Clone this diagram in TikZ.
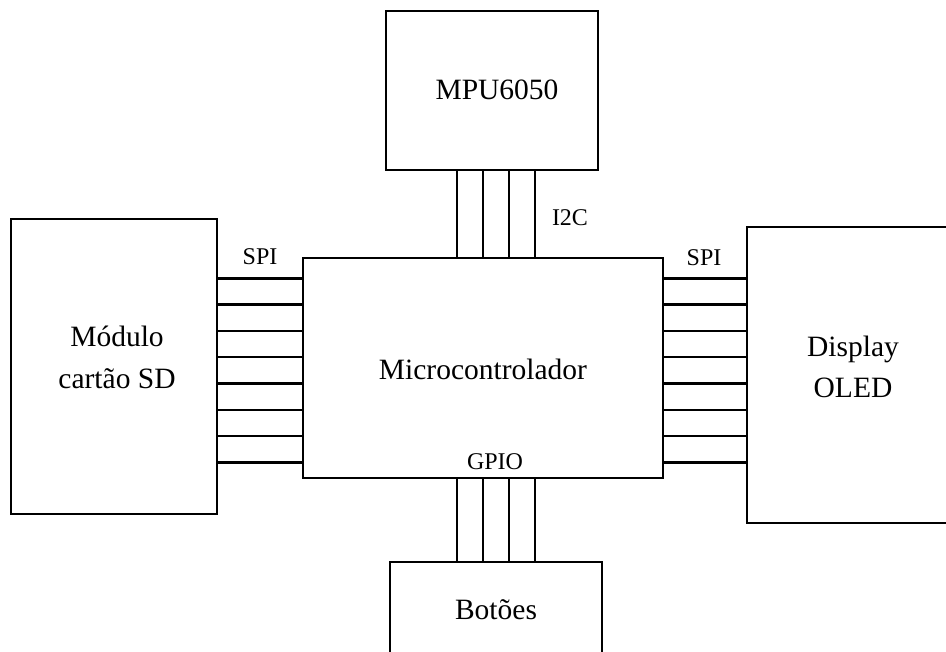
\documentclass[tikz,border=0pt]{standalone}
\usepackage{fontspec}
\setmainfont{Liberation Serif}
\begin{document}
\begin{tikzpicture}[x=1pt,y=-1pt,
  box/.style={draw,line width=2.6pt,rectangle,inner sep=0pt,outer sep=0pt},
  wire/.style={line width=2.6pt},
  big/.style={font=\fontsize{29.5}{41.5}\selectfont,align=center,inner sep=0pt},
  small/.style={font=\fontsize{24}{28}\selectfont,inner sep=0pt}]
\useasboundingbox (0,0) rectangle (946,652);
\clip (0,0) rectangle (946,652);
\fill[white] (0,0) rectangle (946,652);
% boxes
\node[box,minimum width=212pt,minimum height=159pt] (mpu) at (492,90.5) {};
\node[box,minimum width=360pt,minimum height=220pt] (micro) at (483,368) {};
\node[box,minimum width=206pt,minimum height=295pt] (sd) at (114,366.5) {};
\node[box,minimum width=240pt,minimum height=296pt] (disp) at (867,375) {};
\node[box,minimum width=212pt,minimum height=120pt] (bot) at (496,622) {};
% texts
\node[big] (mput) at (497,90) {MPU6050};
\node[big] (microt) at (483,369) {Microcontrolador};
\node[big] (sdt) at (117,357.5) {Módulo\\cartão SD};
\node[big] (dispt) at (853,367) {Display\\OLED};
\node[big] (bott) at (496,610) {Botões};
\node[small] (spil) at (260,257) {SPI};
\node[small] (spir) at (704,258) {SPI};
\node[small] (i2c) at (570,218) {I2C};
\node[small] (gpio) at (495,462) {GPIO};
% wires
\foreach \yy in {278.3,304.8,331.2,357,383.5,410,436.2,462.5}{
  \draw[wire] (sd.east |- 0,\yy) -- (micro.west |- 0,\yy);
  \draw[wire] (micro.east |- 0,\yy) -- (disp.west |- 0,\yy);
}
\foreach \xx in {457,483,509,535}{
  \draw[wire] (mpu.south -| \xx,0) -- (micro.north -| \xx,0);
  \draw[wire] (micro.south -| \xx,0) -- (bot.north -| \xx,0);
}
\end{tikzpicture}
\end{document}
